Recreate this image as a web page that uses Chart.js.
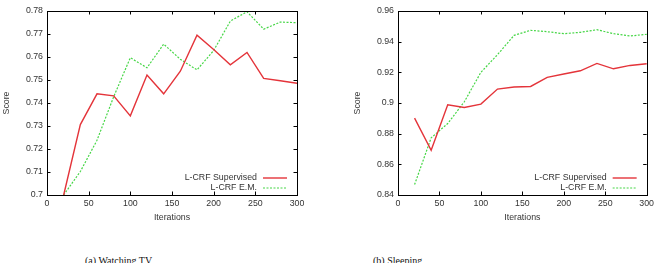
<!DOCTYPE html>
<html lang="en">
<head>
    <meta charset="UTF-8">
    <title>L-CRF Score vs Iterations</title>
    <script src="https://cdn.jsdelivr.net/npm/chart.js"></script>
    <style>
        body { margin: 0; background: #fff; width: 657px; height: 263px; position: relative; overflow: hidden; }
        canvas { position: absolute; top: 0; }
        #tvChart { left: 0; }
        #sleepChart { left: 330px; }
        .cap { position: absolute; top: 254.5px; font-family: "Liberation Serif", "Times New Roman", serif; font-size: 10px; color: #111; white-space: nowrap; }
    </style>
</head>
<body>
    <canvas id="tvChart" width="330" height="230"></canvas>
    <canvas id="sleepChart" width="327" height="230"></canvas>
    <div class="cap" style="left:85px">(a) Watching TV</div>
    <div class="cap" style="left:373px">(b) Sleeping</div>
    <script>
        // iterations (x axis)
        const iterations = [20, 40, 60, 80, 100, 120, 140, 160, 180, 200, 220, 240, 260, 280, 300];

        // (a) Watching TV
        const tvSupervised = [0.700, 0.7306, 0.7440, 0.7431, 0.7344, 0.7522, 0.7440, 0.7538, 0.7695, 0.7633, 0.7566, 0.7620, 0.7507, 0.7497, 0.7486];
        const tvEM = [0.700, 0.7102, 0.7238, 0.7427, 0.7597, 0.7553, 0.7656, 0.7590, 0.7544, 0.7628, 0.7756, 0.7797, 0.7721, 0.7752, 0.7749];

        // (b) Sleeping
        const sleepSupervised = [0.8901, 0.8692, 0.8988, 0.8971, 0.8993, 0.9091, 0.9104, 0.9108, 0.9167, 0.9189, 0.9210, 0.9258, 0.9223, 0.9245, 0.9256];
        const sleepEM = [0.8468, 0.8773, 0.8866, 0.9008, 0.9200, 0.9315, 0.9441, 0.9474, 0.9465, 0.9452, 0.9461, 0.9478, 0.9452, 0.9437, 0.9448];

        const seriesNames = ['L-CRF Supervised', 'L-CRF E.M.'];
        const textFont = { family: 'Liberation Sans, Arial, sans-serif', size: 8.8 };
        const textColor = '#333';

        // gnuplot-like frame with inward ticks on all four sides
        const framePlugin = {
            id: 'frame',
            afterDatasetsDraw(chart) {
                const { ctx, chartArea: a, scales } = chart;
                ctx.save();
                ctx.strokeStyle = '#000';
                ctx.lineWidth = 1;
                ctx.strokeRect(Math.round(a.left) + 0.5, Math.round(a.top) + 0.5, Math.round(a.right - a.left), Math.round(a.bottom - a.top));
                const len = 3.5;
                ctx.beginPath();
                scales.x.ticks.forEach(t => {
                    const px = Math.round(scales.x.getPixelForValue(t.value)) + 0.5;
                    ctx.moveTo(px, a.bottom); ctx.lineTo(px, a.bottom - len);
                    ctx.moveTo(px, a.top); ctx.lineTo(px, a.top + len);
                });
                scales.y.ticks.forEach(t => {
                    const py = Math.round(scales.y.getPixelForValue(t.value)) + 0.5;
                    ctx.moveTo(a.left, py); ctx.lineTo(a.left + len, py);
                    ctx.moveTo(a.right, py); ctx.lineTo(a.right - len, py);
                });
                ctx.stroke();

                // key in the lower right corner
                ctx.font = textFont.size + 'px ' + textFont.family;
                ctx.textAlign = 'right';
                ctx.textBaseline = 'middle';
                chart.data.datasets.forEach((ds, i) => {
                    const y = a.bottom - 17 + i * 10;
                    const x1 = a.right - 34, x2 = a.right - 10;
                    ctx.fillStyle = textColor;
                    ctx.fillText(ds.label, x1 - 6, y);
                    ctx.strokeStyle = ds.borderColor;
                    ctx.lineWidth = ds.borderWidth;
                    ctx.setLineDash(ds.borderDash || []);
                    ctx.beginPath();
                    ctx.moveTo(x1, y); ctx.lineTo(x2, y);
                    ctx.stroke();
                    ctx.setLineDash([]);
                });
                ctx.restore();
            }
        };

        function makeChart(id, supervised, em, yMin, yMax, yStep, padLeft, padRight) {
            const ctx = document.getElementById(id).getContext('2d');
            return new Chart(ctx, {
                type: 'line',
                data: {
                    datasets: [{
                        label: seriesNames[0],
                        data: iterations.map((x, i) => ({ x: x, y: supervised[i] })),
                        borderColor: 'rgb(228, 52, 58)',
                        borderWidth: 1.4,
                        pointRadius: 0,
                        tension: 0,
                        fill: false
                    }, {
                        label: seriesNames[1],
                        data: iterations.map((x, i) => ({ x: x, y: em[i] })),
                        borderColor: 'rgb(70, 214, 70)',
                        borderWidth: 1.2,
                        borderDash: [2, 1.5],
                        pointRadius: 0,
                        tension: 0,
                        fill: false
                    }]
                },
                options: {
                    responsive: false,
                    animation: false,
                    clip: false,
                    layout: { padding: { top: 11, left: padLeft, right: padRight, bottom: 7.5 } },
                    plugins: { legend: { display: false }, tooltip: { enabled: false } },
                    scales: {
                        x: {
                            type: 'linear',
                            min: 0, max: 300,
                            ticks: { stepSize: 50, padding: 3, color: textColor, font: textFont, maxRotation: 0 },
                            grid: { display: false, drawTicks: false },
                            border: { display: false },
                            title: { display: true, text: 'Iterations', color: textColor, font: textFont, padding: 0 },
                            afterFit(s) { s.height = 27.5; }
                        },
                        y: {
                            min: yMin, max: yMax,
                            ticks: {
                                stepSize: yStep, padding: 4, color: textColor, font: textFont,
                                callback: v => String(Number(v.toFixed(2)))
                            },
                            grid: { display: false, drawTicks: false },
                            border: { display: false },
                            title: { display: true, text: 'Score', color: textColor, font: textFont, padding: 0 },
                            afterFit(s) { s.width = 46; }
                        }
                    }
                },
                plugins: [framePlugin]
            });
        }

        makeChart('tvChart', tvSupervised, tvEM, 0.70, 0.78, 0.01, 1, 33);
        makeChart('sleepChart', sleepSupervised, sleepEM, 0.84, 0.96, 0.02, 22, 9);
    </script>
</body>
</html>
